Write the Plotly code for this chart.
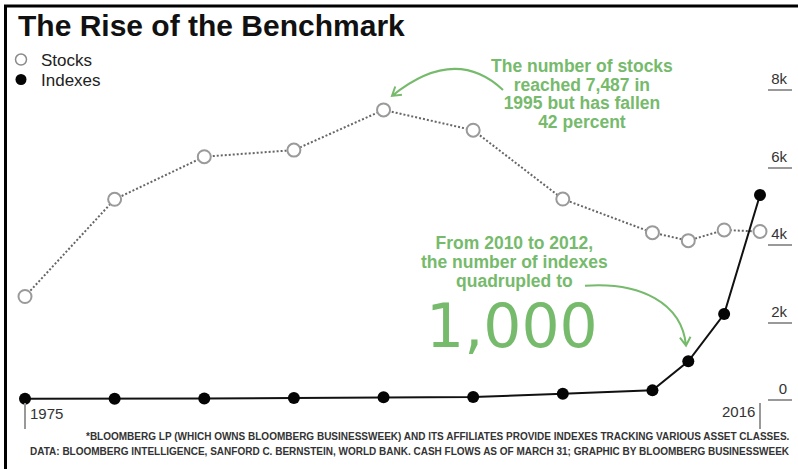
import math
import plotly.graph_objects as go

# ---------------- data ----------------
years = [1975, 1980, 1985, 1990, 1995, 2000, 2005, 2010, 2012, 2014, 2016]
stocks = [2672, 5180, 6280, 6450, 7487, 6963, 5187, 4320, 4114, 4389, 4350]
indexes = [35, 35, 40, 55, 75, 80, 160, 250, 1000, 2220, 5290]
y_ticks = [0, 2000, 4000, 6000, 8000]
y_tick_text = ["0", "2k", "4k", "6k", "8k"]
x_ends = [1975, 2016]

title = "The Rise of the Benchmark"
note1 = "The number of stocks|reached 7,487 in|1995 but has fallen|42 percent".split("|")
note2 = "From 2010 to 2012,|the number of indexes|quadrupled to".split("|")
big = "1,000"
foot1 = "*BLOOMBERG LP (WHICH OWNS BLOOMBERG BUSINESSWEEK) AND ITS AFFILIATES PROVIDE INDEXES TRACKING VARIOUS ASSET CLASSES."
foot2 = "DATA: BLOOMBERG INTELLIGENCE, SANFORD C. BERNSTEIN, WORLD BANK. CASH FLOWS AS OF MARCH 31; GRAPHIC BY BLOOMBERG BUSINESSWEEK"

GREEN = "#76ba6c"
FONT = "Liberation Sans, Arial, sans-serif"

# ---------------- layout geometry ----------------
W, H = 798, 469
L, R, T = 10, 6, 30
# y: value 0 at pixel 400.5, value 8000 at pixel ~90
k = (400.5 - 90.1) / 8000          # pixels per unit
y_range = [-50, (400.5 - T) / k]
B = H - T - (y_range[1] - y_range[0]) * k
PW, PH = W - L - R, H - T - B
# x range: 1975 at px 25, 2016 at px 760
sx = (760 - 25) / (2016 - 1975)
x_range = [1975 - (25 - L) / sx, 2016 + (W - R - 760) / sx]


def px(x):
    return (x - L) / PW


def py(y):
    return (H - B - y) / PH


fig = go.Figure()
fig.add_trace(go.Scatter(
    x=years, y=stocks, mode="lines+markers", name="Stocks", showlegend=False,
    line=dict(color="#666666", width=2, dash="2px,2px"),
    marker=dict(symbol="circle", size=13, color="white", line=dict(color="#9a9a9a", width=2)),
    cliponaxis=False,
))
fig.add_trace(go.Scatter(
    x=years, y=indexes, mode="lines+markers", name="Indexes", showlegend=False,
    line=dict(color="#111111", width=2),
    marker=dict(symbol="circle", size=12, color="#050505"),
    cliponaxis=False,
))
# legend entries (markers only), each in its own legend for tight spacing
fig.add_trace(go.Scatter(x=[None], y=[None], mode="markers", name="Stocks", legend="legend",
                         marker=dict(size=11, color="white", line=dict(color="#8a8a8a", width=1.5))))
fig.add_trace(go.Scatter(x=[None], y=[None], mode="markers", name="Indexes", legend="legend2",
                         marker=dict(size=11, color="#050505")))

shapes = []
# frame lines (left and top)
shapes.append(dict(type="line", xref="paper", yref="paper", x0=px(5.5), x1=px(5.5), y0=py(5), y1=py(H + 5),
                   line=dict(color="#000", width=3)))
shapes.append(dict(type="line", xref="paper", yref="paper", x0=px(4), x1=px(W + 5), y0=py(6), y1=py(6),
                   line=dict(color="#000", width=3)))


def chevron(xe, ye, dxv, dyv, length=10, ang=32):
    n = math.hypot(dxv, dyv)
    ux, uy = dxv / n, dyv / n
    pts = []
    for a in (ang, -ang):
        r = math.radians(a)
        bx = -(ux * math.cos(r) - uy * math.sin(r))
        by = -(ux * math.sin(r) + uy * math.cos(r))
        pts.append((xe + bx * length, ye + by * length))
    return (f" M {px(pts[0][0])},{py(pts[0][1])} L {px(xe)},{py(ye)} L {px(pts[1][0])},{py(pts[1][1])}")


# arrow 1 (stocks note -> peak)
p0, c, p2 = (503, 90), (455, 45), (392, 96)
path1 = f"M {px(p0[0])},{py(p0[1])} Q {px(c[0])},{py(c[1])} {px(p2[0])},{py(p2[1])}"
path1 += chevron(p2[0], p2[1], p2[0] - c[0], p2[1] - c[1])
shapes.append(dict(type="path", xref="paper", yref="paper", path=path1, line=dict(color=GREEN, width=2)))
# arrow 2 (indexes note -> 2012 point)
q0, q1, q2, q3 = (585, 286), (640, 282), (682, 303), (686, 346)
path2 = (f"M {px(q0[0])},{py(q0[1])} C {px(q1[0])},{py(q1[1])} {px(q2[0])},{py(q2[1])} {px(q3[0])},{py(q3[1])}")
path2 += chevron(q3[0], q3[1], q3[0] - q2[0], q3[1] - q2[1])
shapes.append(dict(type="path", xref="paper", yref="paper", path=path2, line=dict(color=GREEN, width=2)))


def big_lines(lines, size):
    return "<br>".join(f"<span style='font-size:{size}px'><b>{t}</b></span>" for t in lines)


annotations = []
# note 1: one text block, tight line spacing (base size sets the line pitch)
annotations.append(dict(text=big_lines(note1, 17.5), xref="paper", yref="paper", x=px(582), y=py(94),
                        xanchor="center", yanchor="middle", align="center", showarrow=False, borderpad=0,
                        font=dict(family=FONT, size=18.5 / 1.3, color=GREEN)))
# note 2
annotations.append(dict(text=big_lines(note2, 17.5), xref="paper", yref="paper", x=px(514), y=py(262),
                        xanchor="center", yanchor="middle", align="center", showarrow=False, borderpad=0,
                        font=dict(family=FONT, size=19 / 1.3, color=GREEN)))
# big number
annotations.append(dict(text=big, xref="paper", yref="paper", x=px(512), y=py(326.5),
                        xanchor="center", yanchor="middle", showarrow=False, borderpad=0,
                        font=dict(family="DejaVu Sans", size=60, color=GREEN)))
# x end labels
annotations.append(dict(text=str(x_ends[0]), xref="x", yref="paper", x=x_ends[0], y=py(414),
                        xanchor="left", yanchor="middle", xshift=3, showarrow=False,
                        font=dict(family=FONT, size=15, color="#333")))
annotations.append(dict(text=str(x_ends[1]), xref="x", yref="paper", x=x_ends[1], y=py(412),
                        xanchor="right", yanchor="middle", xshift=-3, showarrow=False,
                        font=dict(family=FONT, size=15, color="#333")))
# footnotes
annotations.append(dict(text=f"<b>{foot1}</b>", xref="paper", yref="paper", x=px(792), y=py(437),
                        xanchor="right", yanchor="middle", showarrow=False,
                        font=dict(family=FONT, size=10, color="#333")))
annotations.append(dict(text=f"<b>{foot2}</b>", xref="paper", yref="paper", x=px(792), y=py(452),
                        xanchor="right", yanchor="middle", showarrow=False,
                        font=dict(family=FONT, size=10, color="#333")))

legend_common = dict(xanchor="left", yanchor="top", xref="paper", yref="paper",
                     bgcolor="rgba(0,0,0,0)", borderwidth=0,
                     font=dict(family=FONT, size=17, color="#222"), itemwidth=30)

fig.update_layout(
    width=W, height=H,
    margin=dict(l=L, r=R, t=T, b=B, pad=0, autoexpand=False),
    paper_bgcolor="white", plot_bgcolor="white",
    title=dict(text=f"<b>{title}</b>", x=18 / W, xref="container", xanchor="left",
               y=1 - 25 / H, yref="container", yanchor="middle",
               font=dict(family=FONT, size=30, color="#111")),
    showlegend=True,
    legend=dict(x=px(1), y=py(42), **legend_common),
    legend2=dict(x=px(1), y=py(62), **legend_common),
    xaxis=dict(range=x_range, showgrid=False, zeroline=False, showline=False,
               tickmode="array", tickvals=x_ends, showticklabels=False,
               ticks="outside", ticklen=26, tickwidth=1.5, tickcolor="#999"),
    yaxis=dict(range=y_range, side="right", showgrid=False, zeroline=False, showline=False,
               tickmode="array", tickvals=y_ticks, ticktext=y_tick_text,
               ticks="inside", ticklen=24, tickwidth=1.5, tickcolor="#999",
               ticklabelposition="inside top", ticklabelstandoff=2,
               tickfont=dict(family=FONT, size=15, color="#333")),
    shapes=shapes,
    annotations=annotations,
)

fig.write_html("out.html")
